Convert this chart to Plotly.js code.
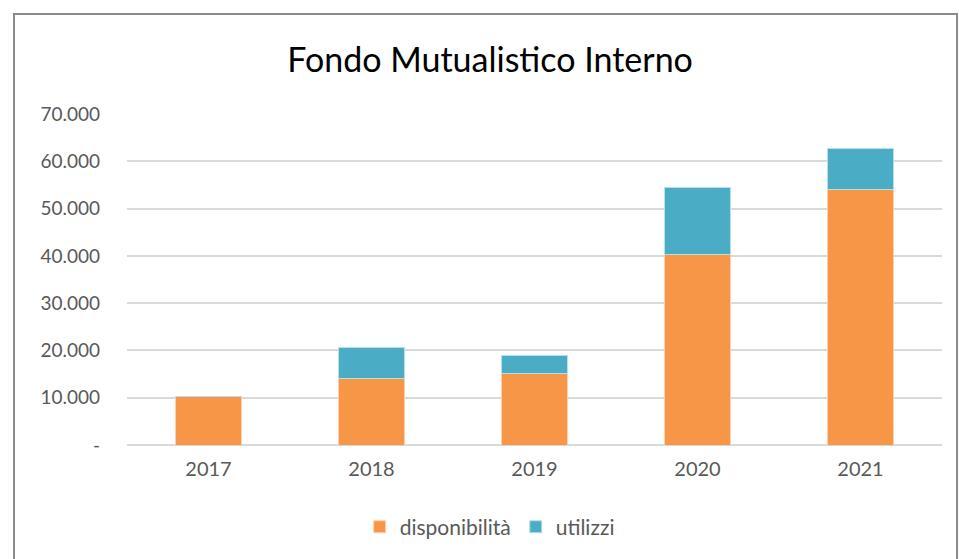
<!DOCTYPE html>
<html>
<head>
<meta charset="utf-8">
<script src="https://cdn.plot.ly/plotly-3.0.1.min.js"></script>
<style>
html,body{margin:0;padding:0;background:#fff;}
#wrap{position:relative;width:959px;height:559px;overflow:hidden;}
#chart{position:absolute;left:0;top:0;width:959px;height:559px;}
#frame{position:absolute;left:13px;top:13px;width:941px;height:560px;border:2px solid #8a8a8a;pointer-events:none;}
</style>
</head>
<body>
<div id="wrap"><div id="chart"></div><div id="frame"></div></div>
<script>
const years = ['2017','2018','2019','2020','2021'];
const disponibilita = [10200, 14000, 15200, 40300, 54100];
const utilizzi = [0, 6600, 3800, 14200, 8500];
const yTickVals = [0, 10000, 20000, 30000, 40000, 50000, 60000, 70000];
const yTickText = ['-', '10.000', '20.000', '30.000', '40.000', '50.000', '60.000', '70.000'];

const font = 'Lato, "Open Sans", sans-serif';
const data = [
  {type:'bar', name:'disponibilità', x:years, y:disponibilita,
   marker:{color:'#F79646', line:{color:'#fbd0b0', width:1}}, hoverinfo:'y'},
  {type:'bar', name:'utilizzi', x:years, y:utilizzi,
   marker:{color:'#4BACC6', line:{color:'#b6e0ec', width:1}}, hoverinfo:'y'}
];
const layout = {
  width:959, height:559,
  paper_bgcolor:'#ffffff', plot_bgcolor:'#ffffff',
  margin:{l:127, r:17, t:114, b:114},
  barmode:'stack', bargap:0.6,
  font:{family:font, color:'#595959', size:19},
  title:{text:'Fondo Mutualistico Interno', font:{family:font, size:34, color:'#000000'},
         xref:'container', x:0.511, xanchor:'center', yref:'container', y:0.893, yanchor:'middle'},
  xaxis:{type:'category', showgrid:false, showline:false, zeroline:false, ticks:'',
         tickfont:{size:20, color:'#595959'}, ticklabelstandoff:10},
  yaxis:{range:[0,70000], tickvals:yTickVals, ticktext:yTickText, showgrid:true,
         gridcolor:'#d9d9d9', gridwidth:2, zeroline:true, zerolinecolor:'#d9d9d9', zerolinewidth:2,
         showline:false, ticks:'', ticklabelstandoff:26, tickfont:{size:19, color:'#595959'}},
  showlegend:true,
  legend:{orientation:'h', x:0.445, xanchor:'center', y:-0.248, yanchor:'middle',
          font:{size:21, color:'#595959'}, traceorder:'normal', itemwidth:30},
};
Plotly.newPlot('chart', data, layout, {displayModeBar:false, staticPlot:true});
</script>
</body>
</html>
